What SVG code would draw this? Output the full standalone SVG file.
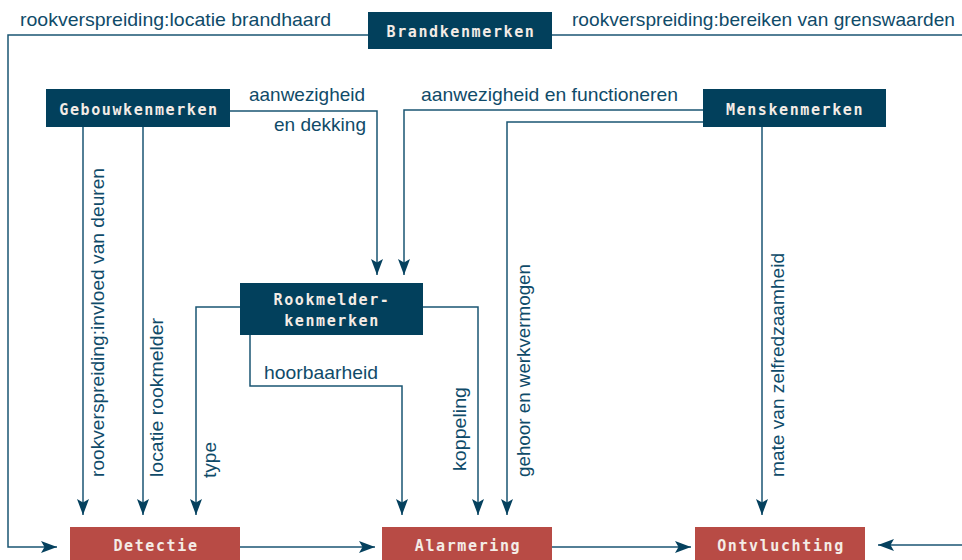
<svg xmlns="http://www.w3.org/2000/svg" width="962" height="560" viewBox="0 0 962 560">
<defs>
<marker id="ah" markerUnits="userSpaceOnUse" markerWidth="18" markerHeight="14" refX="16" refY="6" orient="auto">
<path d="M0,0 L16,6 L0,12 L3.5,6 z" fill="#05415e"/>
</marker>
<style>
.blue{fill:#02405c}
.red{fill:#b84b45}
.nt{font-family:"DejaVu Sans Mono","Liberation Mono",monospace;font-weight:bold;font-size:15px;letter-spacing:1.6px;fill:#f4ece6;text-anchor:middle}
.lb{font-family:"Liberation Sans",Arial,sans-serif;font-size:19px;fill:#0f4b69}
.c{fill:none;stroke:#1a5573;stroke-width:1.5}
.a{marker-end:url(#ah)}
</style>
</defs>
<rect width="962" height="560" fill="#ffffff"/>
<g id="connectors">
<path class="c a" d="M368,35 H8 V547 H57"/>
<path class="c" d="M552,35 H962"/>
<path class="c a" d="M230,111 H377 V275"/>
<path class="c a" d="M83,127 V515"/>
<path class="c a" d="M143,127 V515"/>
<path class="c a" d="M703,110 H404 V275"/>
<path class="c a" d="M703,122 H507 V515"/>
<path class="c a" d="M762,127 V515"/>
<path class="c a" d="M240,307 H196 V515"/>
<path class="c a" d="M423,307 H478 V515"/>
<path class="c a" d="M250,335 V386 H402 V515"/>
<path class="c a" d="M240,547 H375"/>
<path class="c a" d="M552,547 H691"/>
<path class="c a" d="M962,545 H878"/>
</g>
<g id="labels">
<text class="lb" x="20" y="26" textLength="311" lengthAdjust="spacingAndGlyphs">rookverspreiding:locatie brandhaard</text>
<text class="lb" x="572" y="26" textLength="383" lengthAdjust="spacingAndGlyphs">rookverspreiding:bereiken van grenswaarden</text>
<text class="lb" x="249" y="101" textLength="116" lengthAdjust="spacingAndGlyphs">aanwezigheid</text>
<text class="lb" x="274" y="131" textLength="92" lengthAdjust="spacingAndGlyphs">en dekking</text>
<text class="lb" x="421" y="101" textLength="257" lengthAdjust="spacingAndGlyphs">aanwezigheid en functioneren</text>
<text class="lb" x="264" y="379" textLength="114" lengthAdjust="spacingAndGlyphs">hoorbaarheid</text>
<text class="lb" transform="translate(104,477) rotate(-90)" textLength="309" lengthAdjust="spacingAndGlyphs">rookverspreiding:invloed van deuren</text>
<text class="lb" transform="translate(163,477) rotate(-90)" textLength="159" lengthAdjust="spacingAndGlyphs">locatie rookmelder</text>
<text class="lb" transform="translate(216,478) rotate(-90)" textLength="36" lengthAdjust="spacingAndGlyphs">type</text>
<text class="lb" transform="translate(466,471) rotate(-90)" textLength="84" lengthAdjust="spacingAndGlyphs">koppeling</text>
<text class="lb" transform="translate(530,477) rotate(-90)" textLength="213" lengthAdjust="spacingAndGlyphs">gehoor en werkvermogen</text>
<text class="lb" transform="translate(784,477) rotate(-90)" textLength="224" lengthAdjust="spacingAndGlyphs">mate van zelfredzaamheid</text>
</g>
<g id="brandkenmerken">
<rect class="blue" x="368" y="12" width="184" height="37"/>
<text class="nt" x="461" y="37">Brandkenmerken</text>
</g>
<g id="gebouwkenmerken">
<rect class="blue" x="46" y="89" width="184" height="38"/>
<text class="nt" x="139" y="115">Gebouwkenmerken</text>
</g>
<g id="menskenmerken">
<rect class="blue" x="703" y="89" width="183" height="38"/>
<text class="nt" x="795" y="115">Menskenmerken</text>
</g>
<g id="rookmelderkenmerken">
<rect class="blue" x="240" y="283" width="183" height="52"/>
<text class="nt" x="332" y="305">Rookmelder-</text>
<text class="nt" x="332" y="326">kenmerken</text>
</g>
<g id="detectie">
<rect class="red" x="70" y="527" width="170" height="40"/>
<text class="nt" x="156" y="551">Detectie</text>
</g>
<g id="alarmering">
<rect class="red" x="382" y="527" width="170" height="40"/>
<text class="nt" x="468" y="551">Alarmering</text>
</g>
<g id="ontvluchting">
<rect class="red" x="695" y="527" width="170" height="40"/>
<text class="nt" x="781" y="551">Ontvluchting</text>
</g>
</svg>
